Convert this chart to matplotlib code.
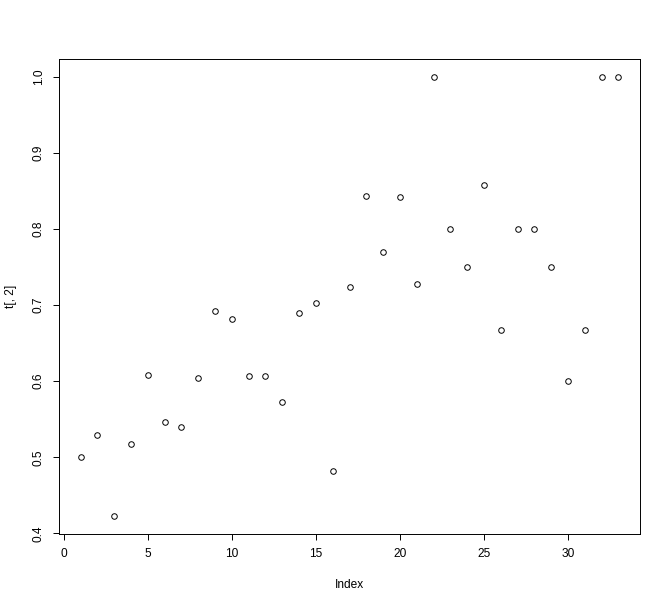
import matplotlib
matplotlib.use("Agg")
import matplotlib.pyplot as plt
import numpy as np

# values of t[, 2]
index = np.arange(1, 34)
values = [
    0.500, 0.529, 0.423, 0.517, 0.608, 0.547, 0.540, 0.604, 0.692, 0.682,
    0.607, 0.607, 0.573, 0.690, 0.702, 0.482, 0.724, 0.843, 0.769, 0.842,
    0.727, 1.000, 0.800, 0.750, 0.857, 0.667, 0.800, 0.800, 0.750, 0.600,
    0.667, 1.000, 1.000,
]
xticks = [0, 5, 10, 15, 20, 25, 30]
yticks = [0.4, 0.5, 0.6, 0.7, 0.8, 0.9, 1.0]

plt.rcParams["font.family"] = ["Liberation Sans", "DejaVu Sans"]
plt.rcParams["font.size"] = 8.6

fig = plt.figure(figsize=(6.71, 6.07), dpi=100)
ax = fig.add_axes([59 / 671, 1 - 533.5 / 607, 581 / 671, 474.5 / 607])

ax.plot(index, values, linestyle="none", marker="o", markersize=4,
        markerfacecolor="none", markeredgecolor="black", markeredgewidth=0.7)

# R style 4% padding on both axes
xr = index.max() - index.min()
yr = max(values) - min(values)
ax.set_xlim(index.min() - 0.04 * xr, index.max() + 0.04 * xr)
ax.set_ylim(min(values) - 0.04 * yr, max(values) + 0.04 * yr)

ax.set_xticks(xticks)
ax.set_yticks(yticks)
ax.set_yticklabels([f"{v:.1f}" for v in yticks], rotation=90, va="center")
ax.tick_params(direction="out", length=4.3, width=0.7, color="black", pad=6)
ax.tick_params(axis="y", pad=6)
for s in ax.spines.values():
    s.set_linewidth(0.7)
    s.set_color("black")

ax.set_xlabel("Index", labelpad=14)
ax.set_ylabel("t[, 2]", labelpad=11)

fig.savefig("out.png", dpi=100)
